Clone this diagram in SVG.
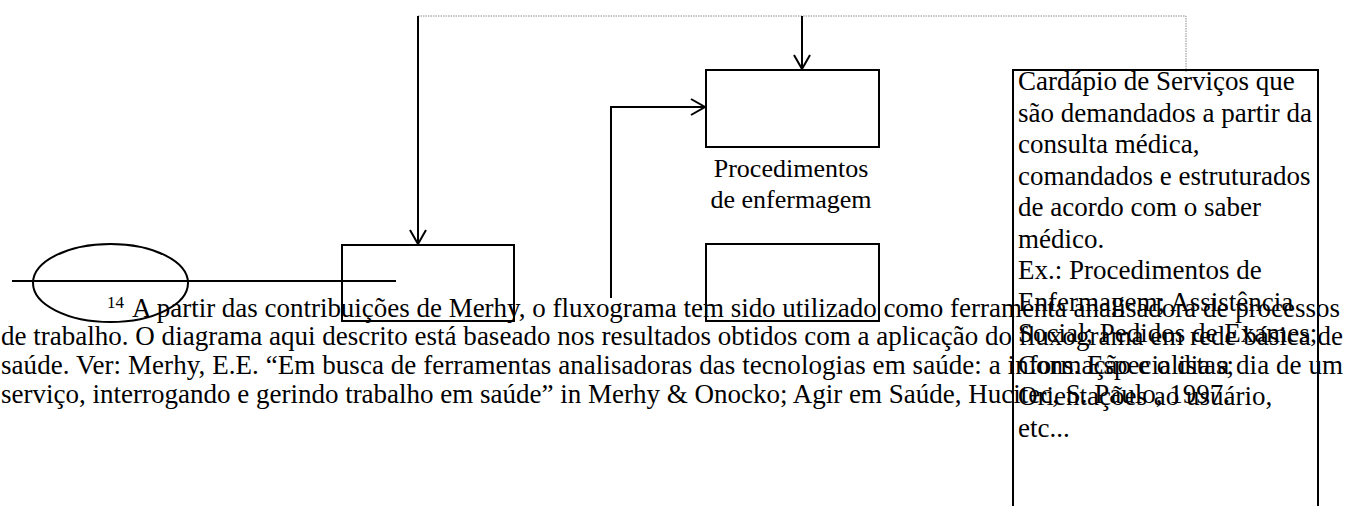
<svg xmlns="http://www.w3.org/2000/svg" width="1345" height="506" viewBox="0 0 1345 506">
<style>
.ln{fill:none;stroke:#000;stroke-width:2}
.dot{fill:none;stroke:#8a8a8a;stroke-width:1;stroke-dasharray:1.5 1}
.t{font-family:"Liberation Serif","Times New Roman",serif;fill:#000}
.p{font-size:27px}
.b{font-size:27px}
.lb{font-size:26px}
</style>
<defs>
<marker id="arr" markerUnits="userSpaceOnUse" markerWidth="20" markerHeight="20" viewBox="-16 -10 18 20" refX="0" refY="0" orient="auto">
<path d="M-14,-8 L0,0 L-14,8" fill="none" stroke="#000" stroke-width="2"/>
</marker>
</defs>
<rect width="1345" height="506" fill="#fff"/>
<g id="connectors">
<path class="dot" d="M418,16 H1186 V72"/>
<path class="ln" d="M418,16 V244" marker-end="url(#arr)"/>
<path class="ln" d="M802,16 V69" marker-end="url(#arr)"/>
<path class="ln" d="M611,298 V107 H705" marker-end="url(#arr)"/>
</g>
<g id="box1"><rect class="ln" x="342" y="245" width="172" height="76"/></g>
<g id="box2">
<rect class="ln" x="706" y="70" width="173" height="77"/>
<text class="t lb" x="791" y="177" text-anchor="middle">Procedimentos</text>
<text class="t lb" x="791" y="208" text-anchor="middle">de enfermagem</text>
</g>
<g id="box3"><rect class="ln" x="706" y="244" width="173" height="77"/></g>
<g id="footnote-mark">
<ellipse class="ln" cx="110.5" cy="283" rx="77.5" ry="39"/>
<line class="ln" x1="12" y1="281" x2="396" y2="281"/>
</g>
<g id="footnote">
<text class="t" x="107" y="308" font-size="17">14</text>
<text class="t p" x="132" y="317" textLength="1208" lengthAdjust="spacing">A partir das contribuições de Merhy, o fluxograma tem sido utilizado como ferramenta analisadora de processos</text>
<text class="t p" x="1" y="345" textLength="1342" lengthAdjust="spacing">de trabalho. O diagrama aqui descrito está baseado nos resultados obtidos com a aplicação do fluxograma em rede básica de</text>
<text class="t p" x="1" y="374" textLength="1342" lengthAdjust="spacing">saúde. Ver: Merhy, E.E. “Em busca de ferramentas analisadoras das tecnologias em saúde: a informação e o dia a dia de um</text>
<text class="t p" x="1" y="403">serviço, interrogando e gerindo trabalho em saúde” in Merhy &amp; Onocko; Agir em Saúde, Hucitec, S. Paulo, 1997.</text>
</g>
<g id="cardapio">
<rect class="ln" x="1013" y="70" width="305" height="460"/>
<text class="t b" x="1018">
<tspan x="1018" y="90">Cardápio de Serviços que</tspan>
<tspan x="1018" y="121.5">são demandados a partir da</tspan>
<tspan x="1018" y="153">consulta médica,</tspan>
<tspan x="1018" y="184.5">comandados e estruturados</tspan>
<tspan x="1018" y="216">de acordo com o saber</tspan>
<tspan x="1018" y="247.5">médico.</tspan>
<tspan x="1018" y="279">Ex.: Procedimentos de</tspan>
<tspan x="1018" y="310.5">Enfermagem; Assistência</tspan>
<tspan x="1018" y="342">Social; Pedidos de Exames;</tspan>
<tspan x="1018" y="373.5">Cons. Especialistas;</tspan>
<tspan x="1018" y="405">Orientações ao usuário,</tspan>
<tspan x="1018" y="436.5">etc...</tspan>
</text>
</g>
</svg>
